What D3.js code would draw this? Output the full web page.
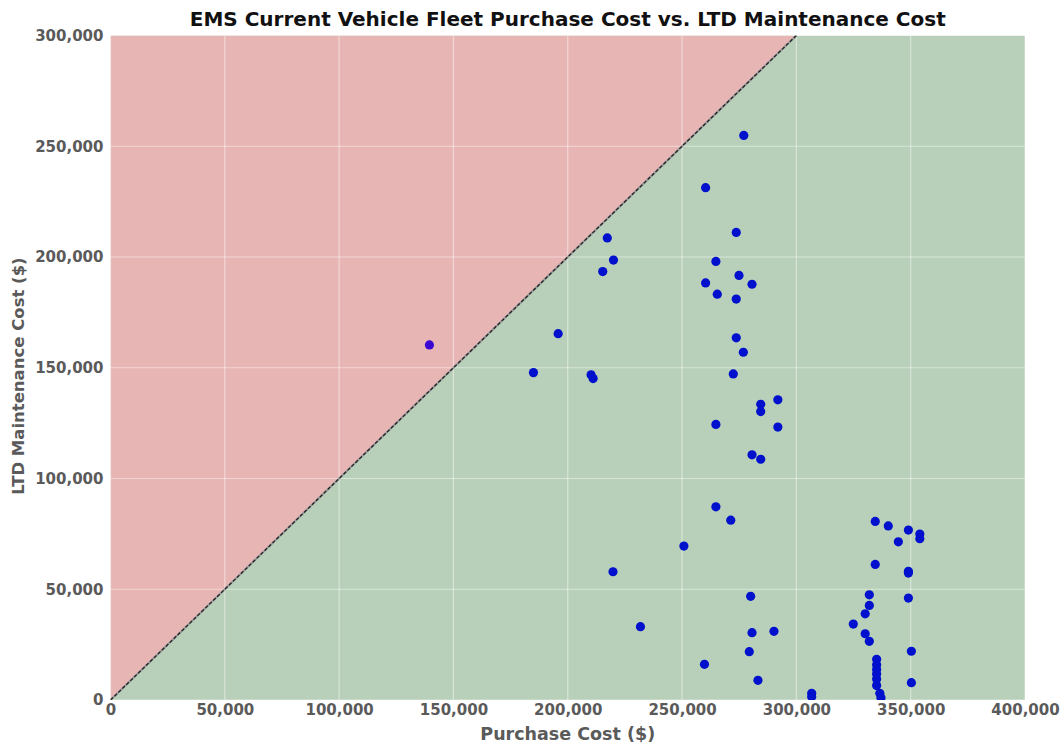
<!DOCTYPE html>
<html>
<head>
<meta charset="utf-8">
<script src="https://cdn.jsdelivr.net/npm/d3@7"></script>
<style>
  html, body { margin: 0; padding: 0; background: #ffffff; }
  svg { display: block; }
</style>
</head>
<body>
<script>
// ---- Data (in $) ----
const purchaseCost = [
  139500, 185000, 195800, 210200, 211100, 215300, 217300, 220000, 219800, 231800,
  250800, 259800, 260300, 260300, 264800, 264800, 264800, 265400, 271300, 272400,
  273700, 273700, 273700, 274900, 276800, 277000, 279400, 280000, 280600, 280600,
  280600, 283200, 284400, 284400, 284400, 290200, 291900, 291900, 306700, 306700,
  324900, 330100, 330100, 331900, 331900, 331900, 334500, 334500, 335100, 335100,
  335100, 335100, 335100, 335100, 336500, 337000, 340200, 344600, 349000, 349000,
  349000, 349000, 350300, 350300, 354000, 354000
];
const maintenanceCost = [
  160300, 147800, 165400, 146800, 145100, 193400, 208600, 198600, 57900, 33100,
  69500, 16100, 231300, 188300, 198000, 124400, 87200, 183200, 81200, 147200,
  211100, 181000, 163500, 191700, 157000, 254900, 21800, 46800, 187700, 110700,
  30400, 8900, 133500, 130200, 108700, 31000, 135500, 123200, 3000, 1500,
  34300, 38900, 29900, 47500, 42700, 26500, 80600, 61200, 18400, 15900,
  13800, 11700, 9500, 6500, 3000, 1000, 78600, 71400, 76700, 58100,
  57300, 46000, 22000, 7800, 74900, 72800
];
const xTicks = [0, 50000, 100000, 150000, 200000, 250000, 300000, 350000, 400000];
const yTicks = [0, 50000, 100000, 150000, 200000, 250000, 300000];
const titleText = "EMS Current Vehicle Fleet Purchase Cost vs. LTD Maintenance Cost";
const xLabel = "Purchase Cost ($)";
const yLabel = "LTD Maintenance Cost ($)";

// ---- Layout ----
const W = 1063, H = 743;
const margin = { left: 110.5, right: 38, top: 35.5, bottom: 43 };
const innerW = W - margin.left - margin.right;
const innerH = H - margin.top - margin.bottom;

const svg = d3.select("body").append("svg").attr("width", W).attr("height", H);

const x = d3.scaleLinear().domain([0, 400000]).range([margin.left, margin.left + innerW]);
const y = d3.scaleLinear().domain([0, 300000]).range([margin.top + innerH, margin.top]);

const fmt = d3.format(",");

svg.append("defs").append("clipPath").attr("id", "clip")
  .append("rect").attr("x", x(0)).attr("y", y(300000))
  .attr("width", x(400000) - x(0)).attr("height", y(0) - y(300000));

const plot = svg.append("g").attr("clip-path", "url(#clip)");

// Green background (below diagonal)
plot.append("rect").attr("x", x(0)).attr("y", y(300000))
  .attr("width", x(400000) - x(0)).attr("height", y(0) - y(300000))
  .attr("fill", "#b8d0b9");

// Red region above y = x
const redPoly = [[0, 0], [300000, 300000], [0, 300000]];
plot.append("path")
  .attr("d", d3.line().x(d => x(d[0])).y(d => y(d[1]))(redPoly) + "Z")
  .attr("fill", "#e8b5b5");

// Grid lines
plot.append("g").selectAll("line").data(xTicks).join("line")
  .attr("x1", d => x(d)).attr("x2", d => x(d))
  .attr("y1", y(0)).attr("y2", y(300000))
  .attr("stroke", "#ffffff").attr("stroke-opacity", 0.45).attr("stroke-width", 1.2);
plot.append("g").selectAll("line").data(yTicks).join("line")
  .attr("x1", x(0)).attr("x2", x(400000))
  .attr("y1", d => y(d)).attr("y2", d => y(d))
  .attr("stroke", "#ffffff").attr("stroke-opacity", 0.45).attr("stroke-width", 1.2);

// Diagonal dashed line
plot.append("line")
  .attr("x1", x(0)).attr("y1", y(0))
  .attr("x2", x(300000)).attr("y2", y(300000))
  .attr("stroke", "#9a9a9a").attr("stroke-width", 2.2);
plot.append("line")
  .attr("x1", x(0)).attr("y1", y(0))
  .attr("x2", x(300000)).attr("y2", y(300000))
  .attr("stroke", "#222222").attr("stroke-width", 1.3)
  .attr("stroke-dasharray", "3.5,2");

// Points
const pts = purchaseCost.map((v, i) => ({ px: v, mc: maintenanceCost[i] }));
plot.append("g").selectAll("circle").data(pts).join("circle")
  .attr("cx", d => x(d.px)).attr("cy", d => y(d.mc)).attr("r", 4.6)
  .attr("fill", d => d.mc > d.px ? "#3a08d2" : "#0010cc");

// Axes
const tickColor = "#5a5a5a";
const xAxis = svg.append("g").attr("transform", `translate(0,${y(0)})`)
  .call(d3.axisBottom(x).tickValues(xTicks).tickFormat(fmt).tickSize(0).tickPadding(4));
xAxis.select(".domain").remove();
xAxis.selectAll("text").attr("fill", tickColor)
  .style("font-family", "DejaVu Sans").style("font-weight", "bold").style("font-size", "15px");

const yAxis = svg.append("g").attr("transform", `translate(${x(0)},0)`)
  .call(d3.axisLeft(y).tickValues(yTicks).tickFormat(fmt).tickSize(0).tickPadding(7));
yAxis.select(".domain").remove();
yAxis.selectAll("text").attr("fill", tickColor)
  .style("font-family", "DejaVu Sans").style("font-weight", "bold").style("font-size", "15px");

// Title
svg.append("text").attr("x", (x(0) + x(400000)) / 2).attr("y", 26)
  .attr("text-anchor", "middle")
  .style("font-family", "DejaVu Sans").style("font-weight", "bold").style("font-size", "20px")
  .attr("fill", "#111111").text(titleText);

// Axis labels
svg.append("text").attr("x", (x(0) + x(400000)) / 2).attr("y", 740)
  .attr("text-anchor", "middle")
  .style("font-family", "DejaVu Sans").style("font-weight", "bold").style("font-size", "17.5px")
  .attr("fill", tickColor).text(xLabel);

svg.append("text")
  .attr("transform", `translate(24,376) rotate(-90)`)
  .attr("text-anchor", "middle")
  .style("font-family", "DejaVu Sans").style("font-weight", "bold").style("font-size", "16.5px")
  .attr("fill", tickColor).text(yLabel);
</script>
</body>
</html>
